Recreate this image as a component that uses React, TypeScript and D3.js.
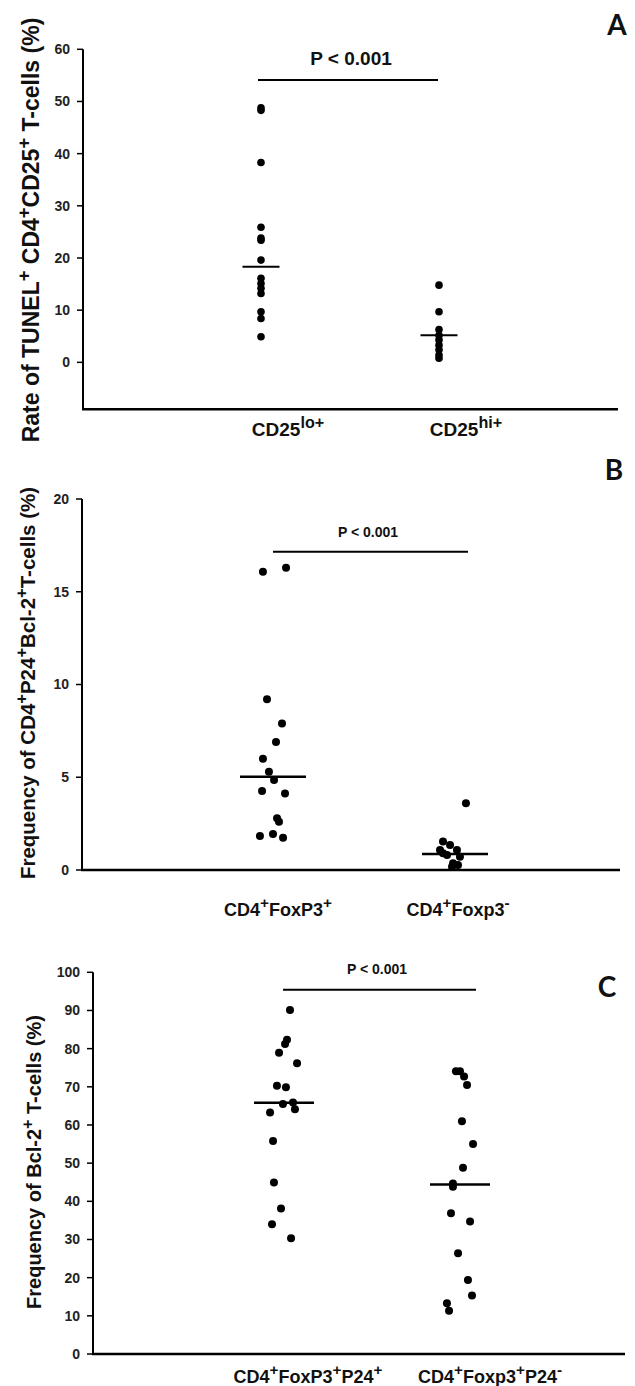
import React from "react";
import * as d3 from "d3";

// ---------- DATA ----------
const catsA = ["CD25lo+", "CD25hi+"];
const valsA1 = [48.8, 48.3, 38.3, 25.9, 23.8, 23.4, 19.6, 16.1, 15.1, 14.2, 13.2, 9.7, 8.4, 4.9];
const jitA1 = [0, 0, 0, 0, 0, 0, 0, 0, 0, 0, 0, 0, 0, 0];
const valsA2 = [14.8, 9.7, 6.3, 5.2, 4.3, 3.3, 2.4, 1.4, 0.8];
const jitA2 = [0, 0, 0, 0, 0, 0, 0, 0, 0];
const meansA = [18.3, 5.2];
const sigA = 54.1;
const ticksA = [0, 10, 20, 30, 40, 50, 60];

const catsB = ["CD4+FoxP3+", "CD4+Foxp3-"];
const valsB1 = [16.08, 16.3, 9.2, 7.9, 6.9, 6.0, 5.3, 4.85, 4.26, 4.13, 2.79, 2.6, 1.83, 1.94, 1.74];
const jitB1 = [-0.67, 0.87, -0.4, 0.6, 0.2, -0.67, -0.27, 0.07, -0.73, 0.8, 0.27, 0.4, -0.87, 0, 0.67];
const valsB2 = [3.6, 1.53, 1.08, 0.81, 1.08, 0.72, 0.36, 0.18, 0.27, 0.9, 1.35];
const jitB2 = [0.73, -0.8, -1.0, -0.53, 0.13, 0.33, -0.13, -0.2, 0.2, -0.8, -0.33];
const meansB = [5.03, 0.86];
const sigB = 17.16;
const ticksB = [0, 5, 10, 15, 20];

const catsC = ["CD4+FoxP3+P24+", "CD4+Foxp3+P24-"];
const valsC1 = [90.1, 82.3, 81.2, 78.9, 76.2, 70.3, 69.9, 65.5, 65.9, 64.1, 63.3, 55.8, 44.9, 38.1, 34.0, 30.3];
const jitC1 = [0.4, 0.2, 0.07, -0.33, 0.87, -0.47, 0.13, -0.07, 0.6, 0.73, -0.93, -0.73, -0.67, -0.2, -0.8, 0.47];
const valsC2 = [74.1, 74.1, 72.7, 70.5, 61.0, 55.0, 48.8, 44.7, 43.8, 36.9, 34.7, 26.4, 19.4, 15.3, 13.3, 11.3];
const jitC2 = [-0.27, 0, 0.27, 0.47, 0.13, 0.87, 0.2, -0.47, -0.47, -0.6, 0.67, -0.13, 0.53, 0.8, -0.87, -0.73];
const meansC = [65.8, 44.4];
const sigC = 95.4;
const ticksC = [0, 10, 20, 30, 40, 50, 60, 70, 80, 90, 100];

type Seg = { t: string; sup?: boolean };
const labA: Seg[][] = [
  [{ t: "CD25" }, { t: "lo+", sup: true }],
  [{ t: "CD25" }, { t: "hi+", sup: true }],
];
const labB: Seg[][] = [
  [{ t: "CD4" }, { t: "+", sup: true }, { t: "FoxP3" }, { t: "+", sup: true }],
  [{ t: "CD4" }, { t: "+", sup: true }, { t: "Foxp3" }, { t: "-", sup: true }],
];
const labC: Seg[][] = [
  [{ t: "CD4" }, { t: "+", sup: true }, { t: "FoxP3" }, { t: "+", sup: true }, { t: "P24" }, { t: "+", sup: true }],
  [{ t: "CD4" }, { t: "+", sup: true }, { t: "Foxp3" }, { t: "+", sup: true }, { t: "P24" }, { t: "-", sup: true }],
];
const yLabA: Seg[] = [
  { t: "Rate of TUNEL" }, { t: "+", sup: true }, { t: " CD4" }, { t: "+", sup: true },
  { t: "CD25" }, { t: "+", sup: true }, { t: " T-cells (%)" },
];
const yLabB: Seg[] = [
  { t: "Frequency of CD4" }, { t: "+", sup: true }, { t: "P24" }, { t: "+", sup: true },
  { t: "Bcl-2" }, { t: "+", sup: true }, { t: "T-cells (%)" },
];
const yLabC: Seg[] = [{ t: "Frequency of Bcl-2" }, { t: "+", sup: true }, { t: " T-cells (%)" }];

const FONT = "'Liberation Sans', Arial, sans-serif";

function rich(segs: Seg[], size: number, supShift: number, supRatio: number) {
  const out: React.ReactNode[] = [];
  let up = false;
  segs.forEach((s, i) => {
    let dy = 0;
    if (s.sup && !up) { dy = -supShift; up = true; }
    else if (!s.sup && up) { dy = supShift; up = false; }
    out.push(
      <tspan key={i} dy={dy} fontSize={s.sup ? size * supRatio : size}>{s.t}</tspan>
    );
  });
  return out;
}

type PanelCfg = {
  letter: string; letterX: number; letterY: number;
  axisX: number; axisRight: number; yTop: number; yBottom: number;
  domain: [number, number]; ticks: number[]; tickFont: number;
  cats: string[]; catX: [number, number];
  vals: number[][]; jits: number[][]; means: number[]; meanHalf: number;
  sig: number; sigX: [number, number]; pText: number; pFont: number; pBase: number;
  labels: Seg[][]; labelX: number[]; labelY: number; labelFont: number;
  yLab: Seg[]; yLabX: number; yLabY: number; yLabFont: number;
  r: number; meanW: number;
};

function Panel({ c }: { c: PanelCfg }) {
  const y = d3.scaleLinear().domain(c.domain).range([c.yBottom, c.yTop]);
  const x = d3.scalePoint<string>().domain(c.cats).range(c.catX);
  const jit = d3.scaleLinear().domain([-1, 1]).range([-15, 15]);
  const yAxisBottom = c.yBottom;
  return (
    <g fontFamily={FONT} fill="#111">
      {/* axes */}
      <line x1={c.axisX} x2={c.axisX} y1={y(c.ticks[c.ticks.length - 1])} y2={yAxisBottom} stroke="#000" strokeWidth={2} />
      <line x1={c.axisX - 1} x2={c.axisRight} y1={yAxisBottom} y2={yAxisBottom} stroke="#000" strokeWidth={2.5} />
      {c.ticks.map((t) => (
        <g key={t}>
          <line x1={c.axisX - 6} x2={c.axisX} y1={y(t)} y2={y(t)} stroke="#000" strokeWidth={1.5} />
          <text x={c.axisX - 13} y={y(t)} dy="0.35em" textAnchor="end" fontSize={c.tickFont} fontWeight="bold" fill="#222">{t}</text>
        </g>
      ))}
      {/* points */}
      {c.vals.map((vs, gi) =>
        vs.map((v, i) => (
          <circle key={gi + "-" + i} cx={(x(c.cats[gi]) as number) + jit(c.jits[gi][i])} cy={y(v)} r={c.r} fill="#000" />
        ))
      )}
      {/* means */}
      {c.means.map((m, gi) => (
        <line key={"m" + gi} x1={(x(c.cats[gi]) as number) - c.meanHalf} x2={(x(c.cats[gi]) as number) + c.meanHalf}
          y1={y(m)} y2={y(m)} stroke="#000" strokeWidth={c.meanW} />
      ))}
      {/* significance */}
      <line x1={(x(c.cats[0]) as number) + c.sigX[0]} x2={(x(c.cats[1]) as number) + c.sigX[1]} y1={y(c.sig)} y2={y(c.sig)} stroke="#000" strokeWidth={2} />
      <text x={c.pText} y={c.pBase} textAnchor="middle" fontSize={c.pFont} fontWeight="bold">P &lt; 0.001</text>
      {/* x labels */}
      {c.labels.map((l, gi) => (
        <text key={"l" + gi} x={c.labelX[gi]} y={c.labelY} textAnchor="middle" fontWeight="bold" fontSize={c.labelFont}>
          {rich(l, c.labelFont, c.labelFont * 0.42, 0.85)}
        </text>
      ))}
      {/* y label */}
      <text transform={`translate(${c.yLabX},${c.yLabY}) rotate(-90)`} textAnchor="middle" fontWeight="bold" fontSize={c.yLabFont}>
        {rich(c.yLab, c.yLabFont, c.yLabFont * 0.4, 0.8)}
      </text>
      {/* panel letter */}
      <text x={c.letterX} y={c.letterY} textAnchor="middle" fontFamily="Lato, 'Open Sans', sans-serif" fontWeight="bold" fontSize={28}>{c.letter}</text>
    </g>
  );
}

const panelA: PanelCfg = {
  letter: "A", letterX: 617, letterY: 35,
  axisX: 83, axisRight: 618, yTop: 49.3, yBottom: 409.3,
  domain: [-9, 60], ticks: ticksA, tickFont: 14,
  cats: catsA, catX: [261, 439],
  vals: [valsA1, valsA2], jits: [jitA1, jitA2], means: meansA, meanHalf: 18.5,
  sig: sigA, sigX: [-3, -1], pText: 351, pBase: 65, pFont: 19,
  labels: labA, labelX: [288, 466], labelY: 436, labelFont: 19,
  yLab: yLabA, yLabX: 39, yLabY: 230, yLabFont: 23,
  r: 3.8, meanW: 2,
};
const panelB: PanelCfg = {
  letter: "B", letterX: 614, letterY: 480,
  axisX: 82, axisRight: 620, yTop: 499, yBottom: 870,
  domain: [0, 20], ticks: ticksB, tickFont: 14,
  cats: catsB, catX: [273, 455],
  vals: [valsB1, valsB2], jits: [jitB1, jitB2], means: meansB, meanHalf: 33,
  sig: sigB, sigX: [0, 13], pText: 368, pBase: 537, pFont: 14,
  labels: labB, labelX: [278, 458], labelY: 916, labelFont: 18,
  yLab: yLabB, yLabX: 35, yLabY: 683, yLabFont: 20.5,
  r: 4, meanW: 2.5,
};
const panelC: PanelCfg = {
  letter: "C", letterX: 607, letterY: 997,
  axisX: 93, axisRight: 625, yTop: 972.3, yBottom: 1354,
  domain: [0, 100], ticks: ticksC, tickFont: 14,
  cats: catsC, catX: [284, 460],
  vals: [valsC1, valsC2], jits: [jitC1, jitC2], means: meansC, meanHalf: 30,
  sig: sigC, sigX: [-1, 16], pText: 377, pBase: 974, pFont: 14,
  labels: labC, labelX: [308, 490], labelY: 1383, labelFont: 18,
  yLab: yLabC, yLabX: 41, yLabY: 1162, yLabFont: 20,
  r: 4, meanW: 2.5,
};

export default function App() {
  return (
    <svg width={635} height={1386} style={{ position: "absolute", left: 0, top: 0, background: "#fff" }}>
      <rect width={635} height={1386} fill="#fff" />
      <Panel c={panelA} />
      <Panel c={panelB} />
      <Panel c={panelC} />
    </svg>
  );
}
